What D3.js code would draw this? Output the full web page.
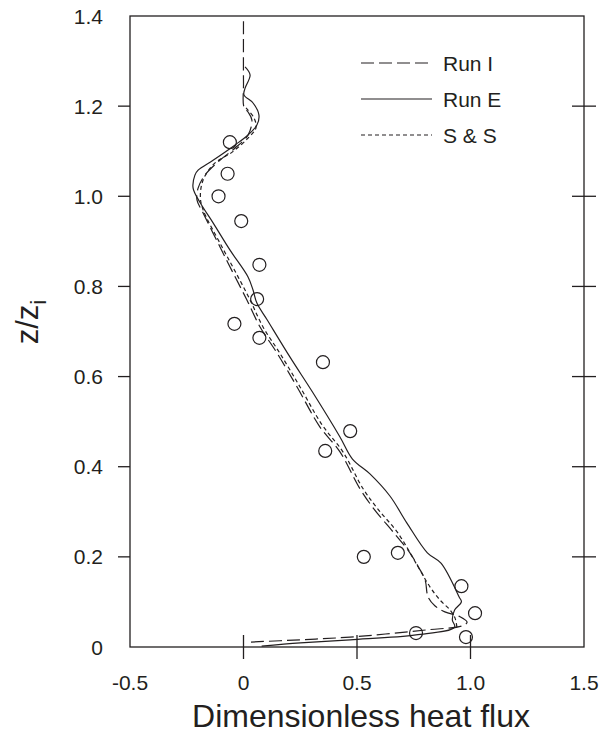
<!DOCTYPE html>
<html>
<head>
<meta charset="utf-8">
<script src="https://cdn.jsdelivr.net/npm/d3@7"></script>
<style>
  body { margin: 0; background: #fff; }
  svg text { font-family: "Liberation Sans", Arial, sans-serif; fill: #231f20; }
</style>
</head>
<body>
<div id="display"></div>
<script>
// tick values
const xTicks = [-0.5, 0, 0.5, 1.0, 1.5]
const yTicks = [0, 0.2, 0.4, 0.6, 0.8, 1.0, 1.2, 1.4]

// observations (flux, z/zi)
const observed = [
  [-0.06, 1.12], [-0.07, 1.05], [-0.11, 1.00], [-0.01, 0.945], [0.07, 0.848],
  [0.06, 0.772], [-0.04, 0.717], [0.07, 0.686], [0.35, 0.632], [0.47, 0.479],
  [0.36, 0.435], [0.53, 0.20], [0.68, 0.209], [0.96, 0.135], [1.02, 0.075],
  [0.76, 0.031], [0.98, 0.022]
]

// Run I (dashed)
const runI = [
  [0.033, 0.011], [0.249, 0.016], [0.469, 0.022], [0.808, 0.038], [0.963, 0.047],
  [0.985, 0.055], [0.954, 0.067], [0.887, 0.078], [0.844, 0.091], [0.813, 0.111],
  [0.80, 0.149], [0.77, 0.178], [0.733, 0.209], [0.663, 0.253], [0.575, 0.306],
  [0.513, 0.351], [0.425, 0.433], [0.337, 0.488], [0.236, 0.577], [0.148, 0.652],
  [0.073, 0.71], [0.015, 0.77], [-0.046, 0.83], [-0.104, 0.888], [-0.178, 0.963],
  [-0.205, 0.992], [-0.2, 1.018], [-0.17, 1.047], [-0.104, 1.08], [-0.037, 1.107],
  [0.02, 1.136], [0.037, 1.169], [0.02, 1.187], [0.002, 1.198], [0, 1.25], [0, 1.4]
]

// Run E (solid)
const runE = [
  [0.08, 0.002], [0.25, 0.009], [0.47, 0.016], [0.76, 0.027], [0.93, 0.044],
  [0.92, 0.06], [0.93, 0.082], [0.96, 0.10], [0.95, 0.111], [0.87, 0.186],
  [0.81, 0.209], [0.72, 0.275], [0.645, 0.335], [0.557, 0.384], [0.48, 0.417],
  [0.425, 0.466], [0.306, 0.564], [0.205, 0.643], [0.104, 0.726], [0.059, 0.763],
  [0.042, 0.792], [0.02, 0.821], [-0.06, 0.881], [-0.134, 0.941], [-0.19, 0.985],
  [-0.222, 1.018], [-0.214, 1.047], [-0.2, 1.058], [-0.134, 1.08], [-0.037, 1.114],
  [0.02, 1.136], [0.059, 1.158], [0.068, 1.18], [0.042, 1.207], [0.002, 1.225],
  [0.007, 1.24], [0.029, 1.269], [0.007, 1.287]
]

// S & S (dotted)
const sAndS = [
  [0.94, 0.044], [0.932, 0.064], [0.91, 0.082], [0.866, 0.104], [0.822, 0.133],
  [0.769, 0.178], [0.68, 0.253], [0.592, 0.306], [0.527, 0.351], [0.438, 0.433],
  [0.346, 0.493], [0.249, 0.577], [0.16, 0.652], [0.086, 0.71], [0.029, 0.77],
  [-0.033, 0.83], [-0.095, 0.888], [-0.178, 0.97], [-0.19, 0.998], [-0.178, 1.036],
  [-0.13, 1.072], [-0.05, 1.098], [0.02, 1.129], [0.055, 1.152], [0.046, 1.174],
  [0.011, 1.196]
]

const series = [
  { name: "Run I", data: runI, dash: "13,5" },
  { name: "Run E", data: runE, dash: null },
  { name: "S & S", data: sAndS, dash: "4,3" }
]

const width = 600
const height = 736
const margin = { left: 130, right: 16, top: 16, bottom: 89 }
const ink = "#231f20"

const svg = d3.select("#display")
  .append("svg")
  .attr("width", width)
  .attr("height", height)

const x = d3.scaleLinear().domain([-0.5, 1.5]).range([margin.left, width - margin.right])
const y = d3.scaleLinear().domain([0, 1.4]).range([height - margin.bottom, margin.top])

// plain hyphen for negatives, "0" without decimals
const fmt = v => v === 0 ? "0" : v.toFixed(1)

// frame
svg.append("rect")
  .attr("x", x(-0.5)).attr("y", y(1.4))
  .attr("width", x(1.5) - x(-0.5)).attr("height", y(0) - y(1.4))
  .attr("fill", "none").attr("stroke", ink).attr("stroke-width", 1.3)

const tickLen = 12

// bottom ticks, crossing the axis
svg.selectAll("line.xtick")
  .data(xTicks.slice(1, -1))
  .enter()
  .append("line")
    .classed("xtick", true)
    .attr("x1", d => x(d)).attr("x2", d => x(d))
    .attr("y1", y(0) - tickLen).attr("y2", y(0) + tickLen)
    .attr("stroke", ink).attr("stroke-width", 1.3)

// left ticks outward, right ticks crossing
const innerY = yTicks.slice(1, -1)
svg.selectAll("line.ytick-left")
  .data(innerY)
  .enter()
  .append("line")
    .attr("x1", x(-0.5) - tickLen).attr("x2", x(-0.5))
    .attr("y1", d => y(d)).attr("y2", d => y(d))
    .attr("stroke", ink).attr("stroke-width", 1.3)

svg.selectAll("line.ytick-right")
  .data(innerY)
  .enter()
  .append("line")
    .attr("x1", x(1.5) - tickLen).attr("x2", x(1.5) + tickLen)
    .attr("y1", d => y(d)).attr("y2", d => y(d))
    .attr("stroke", ink).attr("stroke-width", 1.3)

// tick labels
svg.selectAll("text.xlabel")
  .data(xTicks)
  .enter()
  .append("text")
    .attr("x", d => x(d))
    .attr("y", 690)
    .attr("text-anchor", "middle")
    .attr("font-size", 21)
    .text(fmt)

svg.selectAll("text.ylabel")
  .data(yTicks)
  .enter()
  .append("text")
    .attr("x", 103)
    .attr("y", d => y(d))
    .attr("dy", "0.36em")
    .attr("text-anchor", "end")
    .attr("font-size", 21)
    .text(fmt)

// axis titles
svg.append("text")
  .attr("x", (x(-0.5) + x(1.5)) / 2 + 4)
  .attr("y", 727)
  .attr("text-anchor", "middle")
  .attr("font-size", 32)
  .text("Dimensionless heat flux")

const yTitle = svg.append("text")
  .attr("transform", "translate(38, 322) rotate(-90)")
  .attr("text-anchor", "middle")
  .attr("font-size", 31)
yTitle.append("tspan").text("z/z")
yTitle.append("tspan").attr("dy", 8).attr("font-size", 22).text("i")

// curves
const line = d3.line()
  .x(d => x(d[0]))
  .y(d => y(d[1]))
  .curve(d3.curveCatmullRom.alpha(0.5))

svg.selectAll("path.series")
  .data(series)
  .enter()
  .append("path")
    .classed("series", true)
    .attr("d", d => line(d.data))
    .attr("fill", "none")
    .attr("stroke", ink)
    .attr("stroke-width", 1.2)
    .attr("stroke-dasharray", d => d.dash)

// observations
svg.selectAll("circle")
  .data(observed)
  .enter()
  .append("circle")
    .attr("cx", d => x(d[0]))
    .attr("cy", d => y(d[1]))
    .attr("r", 6.5)
    .attr("fill", "none")
    .attr("stroke", ink)
    .attr("stroke-width", 1.2)

// legend
const legend = svg.selectAll("g.legend")
  .data(series)
  .enter()
  .append("g")
    .classed("legend", true)
    .attr("transform", (d, i) => `translate(361, ${63 + i * 36})`)

legend.append("line")
  .attr("x1", 0).attr("x2", 71)
  .attr("stroke", ink)
  .attr("stroke-width", 1.2)
  .attr("stroke-dasharray", d => d.dash)

legend.append("text")
  .attr("x", 82)
  .attr("dy", "0.36em")
  .attr("font-size", 21)
  .text(d => d.name)
</script>
</body>
</html>
